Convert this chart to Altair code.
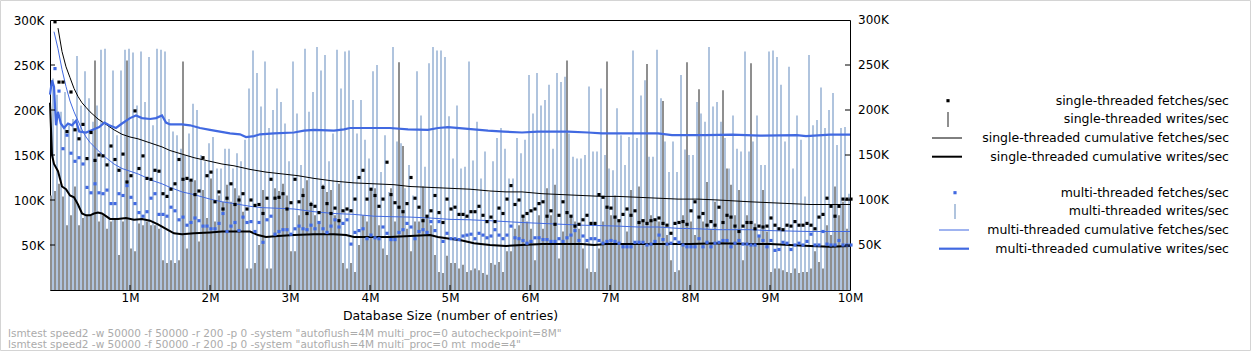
import altair as alt
import pandas as pd

STEP = 50000  # entries per measurement interval (lsmtest -w 50000)
K = 1000

# ---- per-interval values, in thousands per second ----
single_fetch = [
    298, 231, 231, 176, 220, 178, 168, 184, 146, 175,
    144, 150, 149, 139, 160, 145, 133, 151, 120, 127,
    199, 135, 149, 124, 123, 133, 132, 107, 104, 112,
    118, 145, 123, 124, 122, 106, 110, 147, 127, 131,
    98, 109, 90, 102, 118, 95, 100, 107, 90, 100,
    94, 95, 85, 102, 123, 102, 103, 107, 90, 97,
    123, 98, 105, 85, 95, 93, 86, 114, 96, 85,
    91, 77, 88, 90, 88, 101, 125, 133, 101, 112,
    105, 93, 101, 142, 106, 97, 92, 87, 96, 125,
    102, 92, 77, 82, 88, 105, 86, 75, 101, 90,
    92, 84, 84, 82, 87, 87, 93, 83, 76, 81,
    76, 91, 85, 101, 116, 95, 100, 82, 85, 88,
    90, 96, 98, 82, 88, 73, 83, 98, 86, 82,
    71, 73, 78, 83, 74, 74, 106, 103, 92, 91,
    81, 77, 84, 90, 83, 88, 75, 77, 74, 77,
    78, 80, 74, 72, 63, 74, 75, 76, 73, 88,
    98, 81, 85, 72, 76, 72, 92, 75, 83, 81,
    71, 65, 71, 75, 75, 68, 71, 70, 71, 80,
    72, 68, 67, 72, 71, 76, 72, 72, 74, 72,
    68, 81, 84, 102, 93, 82, 93, 101, 101, 101,
]
multi_fetch = [
    246, 221, 157, 172, 152, 143, 147, 140, 114, 108,
    118, 108, 107, 111, 96, 96, 107, 105, 116, 103,
    96, 86, 82, 87, 102, 107, 84, 84, 82, 92,
    88, 78, 81, 72, 75, 80, 77, 71, 71, 68,
    68, 74, 85, 65, 71, 75, 66, 81, 75, 76,
    65, 75, 53, 78, 82, 62, 65, 67, 67, 62,
    68, 71, 68, 67, 72, 68, 75, 68, 64, 71,
    78, 70, 74, 78, 51, 64, 66, 68, 57, 61,
    58, 57, 70, 63, 56, 56, 64, 67, 74, 70,
    57, 65, 67, 64, 76, 66, 76, 54, 63, 57,
    57, 56, 60, 61, 62, 57, 63, 61, 58, 60,
    67, 61, 57, 61, 71, 58, 57, 55, 52, 54,
    58, 58, 56, 56, 54, 54, 57, 54, 58, 61,
    66, 55, 60, 55, 57, 57, 55, 52, 54, 55,
    54, 52, 48, 48, 48, 53, 53, 53, 50, 51,
    54, 61, 56, 51, 52, 57, 53, 50, 48, 48,
    48, 57, 48, 53, 48, 52, 53, 55, 55, 48,
    52, 55, 51, 51, 50, 50, 60, 55, 48, 55,
    44, 45, 53, 52, 45, 50, 52, 50, 54, 62,
    50, 50, 65, 51, 50, 50, 55, 50, 50, 50,
]
single_write = [
    105, 110, 118, 104, 72, 83, 115, 72, 80, 83,
    83, 255, 76, 83, 68, 76, 80, 39, 76, 255,
    46, 43, 74, 72, 76, 72, 72, 68, 33, 30,
    33, 30, 33, 254, 46, 120, 122, 54, 111, 80,
    124, 76, 105, 98, 117, 98, 113, 105, 87, 24,
    24, 30, 50, 111, 24, 24, 113, 110, 118, 105,
    43, 43, 83, 113, 122, 98, 83, 76, 117, 109,
    111, 83, 118, 30, 24, 30, 20, 50, 83, 76,
    113, 113, 72, 46, 39, 113, 76, 253, 160, 68,
    43, 76, 76, 115, 83, 72, 39, 20, 19, 38,
    30, 30, 24, 28, 20, 22, 24, 22, 19, 17,
    30, 28, 31, 20, 43, 43, 68, 72, 83, 76,
    68, 33, 83, 68, 113, 83, 117, 35, 65, 255,
    83, 76, 68, 46, 24, 20, 20, 46, 76, 254,
    83, 105, 76, 50, 65, 111, 50, 115, 76, 251,
    83, 76, 76, 210, 61, 33, 20, 22, 83, 253,
    76, 61, 223, 76, 120, 68, 98, 54, 222, 135,
    117, 83, 111, 33, 83, 252, 74, 61, 111, 65,
    20, 24, 24, 22, 20, 19, 24, 19, 20, 20,
    24, 43, 31, 24, 72, 61, 115, 83, 98, 68,
]
multi_write = [
    235, 217, 198, 220, 183, 190, 260, 205, 243, 213,
    187, 205, 267, 268, 183, 244, 172, 244, 267, 268,
    264, 205, 265, 209, 259, 183, 268, 267, 265, 190,
    176, 172, 157, 150, 174, 207, 200, 150, 143, 163,
    170, 135, 135, 157, 157, 135, 152, 143, 167, 224,
    266, 241, 204, 254, 180, 200, 224, 209, 185, 143,
    254, 196, 139, 268, 198, 220, 270, 244, 261, 143,
    174, 267, 224, 265, 266, 211, 174, 211, 167, 146,
    243, 250, 131, 172, 109, 270, 165, 163, 113, 139,
    105, 243, 194, 137, 252, 270, 266, 266, 259, 193,
    146, 205, 135, 137, 254, 144, 187, 124, 154, 109,
    143, 169, 180, 157, 124, 124, 169, 152, 167, 239,
    196, 241, 205, 211, 228, 157, 241, 231, 237, 174,
    148, 146, 146, 150, 226, 154, 154, 224, 150, 135,
    133, 202, 172, 139, 170, 266, 169, 216, 233, 148,
    148, 267, 213, 165, 131, 165, 131, 239, 156, 150,
    150, 209, 196, 187, 270, 204, 209, 187, 169, 135,
    194, 157, 154, 265, 154, 165, 194, 139, 139, 265,
    266, 259, 228, 165, 248, 135, 194, 167, 104, 261,
    183, 189, 225, 180, 200, 219, 161, 180, 181, 107,
]

# ---- cumulative curves: interval index -> thousands per second ----
cum_single_fetch_at = [2, 3, 4, 5, 6, 7, 8, 9, 10, 12, 14, 16, 18, 20, 22, 24, 26, 28, 30,
                       33, 36, 40, 43, 46, 50, 54, 58, 62, 66, 71, 76, 81, 86, 90, 95, 100,
                       105, 110, 114, 118, 123, 128, 133, 138, 142, 147, 152, 157, 162, 167,
                       171, 175, 180, 185, 190, 195, 200]
cum_single_fetch = [291, 265, 248, 236, 224, 215, 208, 203, 198, 190, 184, 178, 173, 170, 168,
                    165, 162, 159, 155, 151, 147, 143, 140, 138, 134, 131, 129, 127, 124, 121,
                    119, 118, 117, 115, 114, 113, 112, 110, 109, 109, 107, 106, 105, 104, 104,
                    103, 102, 101, 101, 100, 99, 98, 97, 96, 95, 95, 95]
cum_single_write_at = [0, 0.5, 1, 2, 3, 4, 5, 6, 7, 8, 9, 10, 11, 12, 13, 14, 15, 17, 19, 21,
                       23, 25, 27, 29, 31, 33, 36, 40, 43, 46, 50, 52, 54, 57, 61, 66, 71, 74,
                       76, 81, 85, 90, 95, 97, 100, 103, 106, 110, 114, 118, 123, 128, 133,
                       136, 139, 142, 150, 160, 167, 175, 180, 185, 190, 195, 200]
cum_single_write = [208, 150, 140, 132, 115, 112, 105, 103, 95, 85, 83, 83, 85, 86, 85, 82, 79,
                    79, 80, 78, 79, 77, 73, 68, 63, 62, 63, 64, 65, 65, 65, 61, 59, 60, 61, 62,
                    62, 61, 59, 59, 59, 60, 61, 59, 57, 55, 52, 50, 49, 50, 51, 51, 51, 50, 51,
                    51, 51, 51, 52, 51, 51, 50, 49, 48, 49]
cum_multi_fetch_at = [1, 2, 3, 4, 5, 6, 7, 8, 9, 10, 12, 14, 16, 18, 20, 22, 24, 26, 28, 30,
                      33, 36, 40, 43, 46, 50, 53, 56, 61, 66, 71, 76, 81, 85, 90, 95, 100, 105,
                      110, 114, 118, 123, 128, 133, 138, 142, 147, 152, 157, 162, 167, 171,
                      175, 180, 185, 190, 195, 200]
cum_multi_fetch = [287, 268, 245, 226, 210, 198, 188, 178, 170, 164, 155, 147, 140, 135, 132,
                   129, 125, 121, 118, 114, 109, 106, 101, 98, 96, 93, 91.5, 91, 90, 87, 85, 84,
                   82, 81.5, 81, 80, 78.5, 78, 77, 76, 75, 74, 73, 72, 71.5, 71, 70, 70, 68.5,
                   68, 67, 67, 67, 66, 65.5, 65, 65, 65]
cum_multi_write_at = [0, 0.5, 1, 1.5, 2, 2.7, 3.5, 4.5, 5.5, 6.5, 7.3, 9, 10.7, 12.3, 13.6,
                      14.8, 16.5, 18, 20, 21.5, 23, 25, 26.5, 28, 29, 30, 33, 35, 37.5, 40, 42.5,
                      45, 47.5, 49, 51, 52.5, 56, 61, 63.5, 66, 71, 73.5, 75, 85, 89.5, 94.5, 97,
                      99.5, 104.5, 109.5, 113.5, 118, 122, 129.5, 134.5, 138, 142, 145, 152,
                      155.5, 164, 170.5, 177.5, 186.7, 189, 195, 200]
cum_multi_write = [217, 233, 226, 183, 198, 185, 180, 185, 183, 188, 176, 175, 178, 181, 186,
                   183, 180, 185, 191, 194, 191, 190, 191, 194, 186, 184, 184, 183, 180, 178,
                   176, 174, 173, 170, 171, 173, 174, 175, 177, 178, 177, 178.5, 180, 180,
                   178.5, 178, 180, 181, 179, 177, 176, 175, 176, 176, 175, 174, 174, 174, 174,
                   172, 172, 172.6, 171.5, 172, 171, 172.6, 172.6]

y_ticks = [50000, 100000, 150000, 200000, 250000, 300000]
x_ticks = [1000000, 2000000, 3000000, 4000000, 5000000,
           6000000, 7000000, 8000000, 9000000, 10000000]

legend_single = ["single-threaded fetches/sec", "single-threaded writes/sec",
                 "single-threaded cumulative fetches/sec", "single-threaded cumulative writes/sec"]
legend_multi = ["multi-threaded fetches/sec", "multi-threaded writes/sec",
                "multi-threaded cumulative fetches/sec", "multi-threaded cumulative writes/sec"]
footer = ['lsmtest speed2 -w 50000 -f 50000 -r 200 -p 0 -system "autoflush=4M multi_proc=0 autocheckpoint=8M"',
          'lsmtest speed2 -w 50000 -f 50000 -r 200 -p 0 -system "autoflush=4M multi_proc=0 mt_mode=4"']
x_title = "Database Size (number of entries)"

# ---- colours ----
BLACK = "#000000"
BLUE = "#4169e1"
GRAY = "#8f8f8f"
LIGHT = "#b0c4de"
FONT = "DejaVu Sans"
LBL = 12

# ---- tables ----
n = len(single_write)
bars = pd.DataFrame({
    "x0": [STEP * i for i in range(n)],
    "xm": [STEP * i + STEP // 2 for i in range(n)],
    "x1": [STEP * (i + 1) for i in range(n)],
    "sw": [v * K for v in single_write],
    "mw": [v * K for v in multi_write],
})
pts = pd.DataFrame({
    "x": [STEP * (i + 1) for i in range(len(single_fetch))],
    "sf": [v * K for v in single_fetch],
    "mf": [v * K for v in multi_fetch],
})


def cum_df(at, vals):
    return pd.DataFrame({"x": [a * STEP for a in at], "v": [v * K for v in vals]})


xs = alt.Scale(domain=[0, 10000000], nice=False, zero=False)
ys = alt.Scale(domain=[0, 300000], nice=False, zero=False)
XAX = alt.Axis(values=x_ticks, labelExpr="(datum.value/1000000) + 'M'", ticks=False, tickSize=0,
               domain=False, grid=False, labelPadding=2, labelFontSize=LBL, labelFont=FONT,
               labelColor=BLACK, title=x_title, titleFont=FONT, titleFontSize=12.5,
               titleFontWeight="normal", titleColor=BLACK, titlePadding=6, labelFlush=False)
YAX = alt.Axis(values=y_ticks, labelExpr="(datum.value/1000) + 'K'", ticks=False, tickSize=0,
               domain=False, grid=False, labelPadding=6, labelFontSize=LBL, labelFont=FONT,
               labelColor=BLACK, title=None, labelFlush=False)

X = lambda f: alt.X(f, type="quantitative", scale=xs, axis=XAX)
Y = lambda f: alt.Y(f, type="quantitative", scale=ys, axis=YAX)

gray_bars = alt.Chart(bars).mark_rect(color=GRAY).encode(
    x=X("x0"), x2="xm", y=Y("sw"), y2=alt.datum(0))
light_bars = alt.Chart(bars).mark_rect(color=LIGHT).encode(
    x=X("xm"), x2="x1", y=Y("mw"), y2=alt.datum(0))


def line(at, vals, color, width):
    return alt.Chart(cum_df(at, vals)).mark_line(color=color, strokeWidth=width).encode(
        x=X("x"), y=Y("v"))


lines = [
    line(cum_single_fetch_at, cum_single_fetch, BLACK, 1),
    line(cum_single_write_at, cum_single_write, BLACK, 2),
    line(cum_multi_fetch_at, cum_multi_fetch, BLUE, 1),
    line(cum_multi_write_at, cum_multi_write, BLUE, 2.2),
]

sf_pts = alt.Chart(pts).mark_square(color=BLACK, size=10, opacity=1, xOffset=1).encode(
    x=X("x"), y=Y("sf"))
mf_pts = alt.Chart(pts).mark_square(color=BLUE, size=10, opacity=1, xOffset=1).encode(
    x=X("x"), y=Y("mf"))

# inward ticks (gnuplot style) and mirrored right-hand labels
yt = pd.DataFrame({"v": y_ticks[:-1]})
xt = pd.DataFrame({"v": x_ticks[:-1]})
left_ticks = alt.Chart(yt).mark_rule(color=BLACK).encode(
    x=alt.value(0), x2=alt.value(5), y=Y("v"))
right_ticks = alt.Chart(yt).mark_rule(color=BLACK).encode(
    x=alt.value(795), x2=alt.value(800), y=Y("v"))
bottom_ticks = alt.Chart(xt).mark_rule(color=BLACK).encode(
    x=X("v"), y=alt.value(270), y2=alt.value(265))
right_labels = alt.Chart(pd.DataFrame({"v": y_ticks})).transform_calculate(
    lab="(datum.v/1000) + 'K'").mark_text(
    align="left", baseline="middle", fontSize=LBL, font=FONT, color=BLACK).encode(
    x=alt.value(808), y=Y("v"), text="lab:N")

one = pd.DataFrame({"a": [0]})

legend_layers = []
text_y = [80.7, 99.3, 118, 136.7, 172.7, 191.3, 210, 228.7]
for lab, ty in zip(legend_single + legend_multi, text_y):
    legend_layers.append(alt.Chart(one).mark_text(
        align="right", baseline="middle", fontSize=12.5, font=FONT, color=BLACK).encode(
        x=alt.value(1179), y=alt.value(ty), text=alt.value(lab)))
# symbols
legend_layers += [
    alt.Chart(one).mark_square(color=BLACK, size=10, opacity=1).encode(
        x=alt.value(898), y=alt.value(80.7)),
    alt.Chart(one).mark_rect(color=GRAY).encode(
        x=alt.value(897), x2=alt.value(899), y=alt.value(92), y2=alt.value(107)),
    alt.Chart(one).mark_rule(color=BLACK, strokeWidth=1).encode(
        x=alt.value(882), x2=alt.value(912), y=alt.value(118)),
    alt.Chart(one).mark_rule(color=BLACK, strokeWidth=2).encode(
        x=alt.value(882), x2=alt.value(912), y=alt.value(136.7)),
    alt.Chart(one).mark_square(color=BLUE, size=10, opacity=1).encode(
        x=alt.value(905), y=alt.value(172.7)),
    alt.Chart(one).mark_rect(color=LIGHT).encode(
        x=alt.value(904), x2=alt.value(906), y=alt.value(184), y2=alt.value(199)),
    alt.Chart(one).mark_rule(color=BLUE, strokeWidth=1).encode(
        x=alt.value(889), x2=alt.value(919), y=alt.value(210)),
    alt.Chart(one).mark_rule(color=BLUE, strokeWidth=2.2).encode(
        x=alt.value(889), x2=alt.value(919), y=alt.value(228.7)),
]

footer_layers = [
    alt.Chart(one).mark_text(align="left", baseline="middle", fontSize=10.5, font=FONT,
                             color="#ababab").encode(
        x=alt.value(-42), y=alt.value(fy), text=alt.value(t))
    for t, fy in zip(footer, [313.5, 324.5])
]

border = alt.Chart(one).mark_rect(fillOpacity=0, stroke="#d4d4d4", strokeWidth=1).encode(
    x=alt.value(-49.5), x2=alt.value(1200.5), y=alt.value(-19.5), y2=alt.value(330.5))

chart = alt.layer(
    gray_bars, light_bars, *lines, sf_pts, mf_pts,
    left_ticks, right_ticks, bottom_ticks, right_labels,
    *legend_layers, *footer_layers, border,
).properties(
    width=800, height=270,
    autosize=alt.AutoSizeParams(type="none"),
    padding={"left": 50, "top": 20, "right": 402, "bottom": 62},
    background="white",
).configure_view(stroke=BLACK, strokeWidth=1)

chart.save("out.html", embed_options={"renderer": "svg", "actions": False})
